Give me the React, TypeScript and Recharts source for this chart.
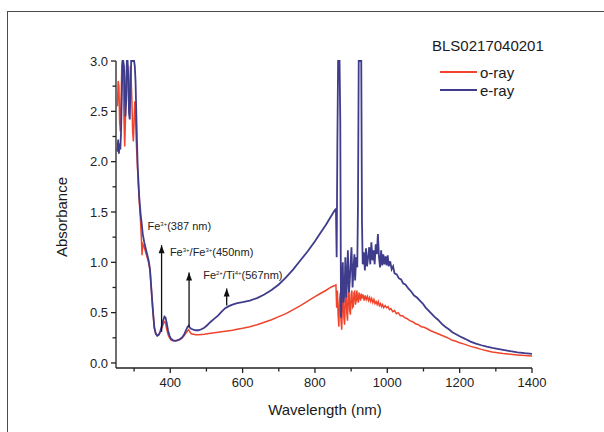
import { LineChart, Line, XAxis, YAxis, ReferenceLine, ReferenceDot, Legend } from 'recharts';

const FONT = '"Liberation Sans", Arial, Helvetica, sans-serif';

const sampleId = 'BLS0217040201';
const seriesNames = ['o-ray', 'e-ray'];
const seriesColors = ['#f0442c', '#3f3c8c'];

const xTicks = [300, 400, 500, 600, 700, 800, 900, 1000, 1100, 1200, 1300, 1400];
const xLabelTicks = [400, 600, 800, 1000, 1200, 1400];
const yTicks = [0, 0.25, 0.5, 0.75, 1, 1.25, 1.5, 1.75, 2, 2.25, 2.5, 2.75, 3];
const yLabelTicks = [0, 0.5, 1, 1.5, 2, 2.5, 3];

// [wavelength nm, absorbance]
const oRay: [number, number][] = [
  [254, 2.55], [256, 2.8], [258, 2.75], [260, 2.4], [262, 2.3], [264, 2.6], [266, 2.95], [268, 3.0],
  [270, 2.85], [272, 2.45], [274, 2.15], [276, 2.4], [278, 2.8], [280, 3.0], [282, 2.95], [284, 2.7],
  [286, 2.5], [288, 2.75], [290, 2.95], [292, 2.8], [294, 2.6], [296, 2.3], [298, 2.2], [300, 2.4],
  [302, 2.6], [304, 2.45], [306, 2.2], [308, 2.05], [310, 1.9], [314, 1.62], [318, 1.4], [320, 1.25],
  [322, 1.07], [324, 1.18], [328, 1.15], [332, 1.1], [336, 1.05], [340, 1.0], [344, 0.92], [348, 0.72],
  [352, 0.52], [356, 0.35], [360, 0.29], [364, 0.27], [368, 0.28], [372, 0.3], [376, 0.34], [380, 0.38],
  [384, 0.41], [387, 0.4], [390, 0.34], [394, 0.28], [398, 0.25], [402, 0.23], [408, 0.22], [414, 0.22],
  [420, 0.225], [426, 0.23], [432, 0.245], [438, 0.27], [444, 0.3], [448, 0.32], [451, 0.33], [454, 0.31],
  [458, 0.29], [464, 0.285], [470, 0.28], [478, 0.28], [486, 0.283], [494, 0.286], [502, 0.29], [512, 0.295],
  [522, 0.3], [532, 0.305], [542, 0.31], [552, 0.315], [562, 0.32], [572, 0.325], [585, 0.335], [600, 0.345],
  [620, 0.36], [640, 0.38], [660, 0.405], [680, 0.43], [700, 0.46], [720, 0.49], [740, 0.53], [760, 0.57],
  [780, 0.615], [800, 0.66], [815, 0.69], [830, 0.72], [845, 0.755], [855, 0.77], [858, 0.775],
  [860, 0.55], [862, 0.72], [864, 0.48], [866, 0.36], [868, 0.62], [870, 0.7], [872, 0.42], [874, 0.33],
  [876, 0.58], [878, 0.72], [880, 0.45], [882, 0.38], [884, 0.65], [886, 0.74], [888, 0.5], [890, 0.42],
  [892, 0.66], [894, 0.73], [896, 0.52], [898, 0.48], [900, 0.68], [902, 0.72], [904, 0.55], [906, 0.56],
  [908, 0.7], [910, 0.71], [912, 0.58], [914, 0.62], [916, 0.72], [918, 0.63], [920, 0.6], [922, 0.7],
  [924, 0.66], [926, 0.62], [928, 0.69], [930, 0.64], [933, 0.68], [936, 0.62], [939, 0.67], [942, 0.63],
  [945, 0.66], [948, 0.62], [951, 0.65], [954, 0.61], [957, 0.64], [960, 0.6], [963, 0.63], [966, 0.59],
  [969, 0.61], [972, 0.58], [975, 0.61], [978, 0.57], [981, 0.59], [984, 0.56], [987, 0.58], [990, 0.55],
  [994, 0.57], [998, 0.55], [1002, 0.56], [1006, 0.53], [1010, 0.54], [1015, 0.51], [1020, 0.52], [1025, 0.49],
  [1030, 0.5], [1036, 0.47], [1042, 0.47], [1048, 0.45], [1055, 0.44], [1062, 0.42], [1070, 0.41], [1078, 0.39],
  [1086, 0.38], [1094, 0.36], [1102, 0.355], [1110, 0.34], [1120, 0.32], [1130, 0.305], [1140, 0.29], [1150, 0.275],
  [1160, 0.26], [1170, 0.245], [1180, 0.225], [1190, 0.215], [1200, 0.2], [1215, 0.185], [1230, 0.165], [1245, 0.152],
  [1260, 0.135], [1275, 0.122], [1290, 0.11], [1305, 0.102], [1320, 0.093], [1340, 0.086], [1360, 0.079],
  [1380, 0.073], [1400, 0.068],
];

const eRay: [number, number][] = [
  [254, 2.1], [256, 2.22], [258, 2.08], [260, 2.18], [262, 2.12], [264, 2.3], [266, 2.65], [268, 3.0],
  [270, 3.0], [272, 2.95], [274, 2.7], [276, 2.45], [278, 2.6], [280, 3.0], [282, 3.0], [284, 2.85],
  [286, 2.48], [288, 2.42], [290, 2.7], [292, 3.0], [294, 3.0], [296, 3.0], [298, 3.0], [300, 3.0],
  [302, 2.95], [304, 2.8], [306, 2.5], [308, 2.2], [310, 1.95], [314, 1.66], [318, 1.48], [320, 1.42],
  [322, 1.35], [324, 1.28], [328, 1.2], [332, 1.14], [336, 1.08], [340, 1.02], [344, 0.93], [348, 0.72],
  [352, 0.52], [356, 0.35], [360, 0.29], [364, 0.27], [368, 0.28], [372, 0.31], [376, 0.36], [380, 0.42],
  [384, 0.46], [387, 0.45], [390, 0.4], [394, 0.32], [398, 0.27], [402, 0.24], [408, 0.225], [414, 0.22],
  [420, 0.225], [426, 0.235], [432, 0.25], [438, 0.28], [444, 0.33], [448, 0.36], [451, 0.37], [454, 0.35],
  [458, 0.34], [464, 0.33], [470, 0.325], [478, 0.325], [486, 0.335], [494, 0.35], [502, 0.375], [512, 0.41],
  [522, 0.44], [532, 0.47], [542, 0.51], [552, 0.545], [562, 0.565], [572, 0.58], [585, 0.595], [600, 0.605],
  [620, 0.62], [640, 0.645], [660, 0.68], [680, 0.725], [700, 0.78], [720, 0.85], [740, 0.93], [760, 1.02],
  [780, 1.11], [800, 1.21], [815, 1.29], [830, 1.37], [845, 1.46], [855, 1.52], [858, 1.53],
  [860, 1.05], [862, 2.2], [864, 3.0], [868, 3.0], [870, 2.4], [872, 0.45], [875, 0.8], [877, 1.0],
  [879, 0.6], [882, 0.72], [884, 1.05], [887, 0.65], [889, 0.85], [891, 1.12], [894, 0.7], [896, 0.8],
  [899, 1.02], [901, 1.15], [904, 0.75], [906, 0.9], [909, 1.08], [911, 0.82], [914, 1.05], [917, 0.95],
  [919, 1.6], [921, 3.0], [928, 3.0], [930, 1.4], [932, 0.98], [935, 1.1], [938, 0.92], [941, 1.14],
  [944, 0.96], [947, 1.05], [950, 1.15], [953, 0.98], [956, 1.2], [959, 1.02], [962, 1.12], [965, 0.98],
  [968, 1.18], [971, 1.08], [974, 1.28], [977, 1.05], [980, 0.95], [983, 1.12], [986, 0.97], [989, 1.08],
  [992, 0.98], [995, 1.06], [998, 0.97], [1001, 1.07], [1004, 0.96], [1008, 1.01], [1012, 0.93], [1016, 0.96],
  [1020, 0.89], [1026, 0.88], [1032, 0.84], [1038, 0.83], [1044, 0.79], [1050, 0.78], [1058, 0.74], [1066, 0.71],
  [1074, 0.67], [1082, 0.65], [1090, 0.62], [1098, 0.59], [1106, 0.55], [1114, 0.52], [1122, 0.49], [1130, 0.46],
  [1140, 0.43], [1150, 0.39], [1160, 0.36], [1170, 0.335], [1180, 0.305], [1190, 0.285], [1200, 0.265], [1215, 0.24],
  [1230, 0.212], [1245, 0.193], [1260, 0.176], [1275, 0.162], [1290, 0.15], [1305, 0.14], [1320, 0.13],
  [1340, 0.117], [1360, 0.106], [1380, 0.097], [1400, 0.09],
];

// arrows pointing at absorption bands
const arrowNm = [376, 452, 556];
const arrowBase = [0.31, 0.36, 0.57];
const arrowTip = [1.17, 0.9, 0.74];
const labelNm = [337, 399, 491];
const labelAbs = [1.32, 1.06, 0.83];
const labelParts: [string, boolean][][] = [
  [['Fe', false], ['3+', true], ['(387 nm)', false]],
  [['Fe', false], ['3+', true], ['/Fe', false], ['3+', true], ['(450nm)', false]],
  [['Fe', false], ['2+', true], ['/Ti', false], ['4+', true], ['(567nm)', false]],
];

const toPoints = (rows: [number, number][]) => rows.map(([nm, v]) => ({ nm, v }));

function XTick({ x, y, payload }: any) {
  const major = xLabelTicks.includes(payload.value);
  return (
    <g>
      <line x1={x} y1={y} x2={x} y2={y + (major ? 5 : 3.5)} stroke="#222" strokeWidth={1.3} />
      {major && (
        <text x={x} y={y + 19} textAnchor="middle" fontSize={13} fill="#222" fontFamily={FONT}>
          {payload.value}
        </text>
      )}
    </g>
  );
}

function YTick({ x, y, payload }: any) {
  const major = yLabelTicks.includes(payload.value);
  return (
    <g>
      <line x1={x - (major ? 5 : 3.5)} y1={y} x2={x} y2={y} stroke="#222" strokeWidth={1.3} />
      {major && (
        <text x={x - 8} y={y} dy="0.36em" textAnchor="end" fontSize={13} fill="#222" fontFamily={FONT}>
          {payload.value.toFixed(1)}
        </text>
      )}
    </g>
  );
}

function ArrowHead({ cx, cy }: any) {
  return <polygon points={`${cx},${cy} ${cx - 3},${cy + 8} ${cx + 3},${cy + 8}`} fill="#111" />;
}

function bandLabel(parts: [string, boolean][]) {
  return ({ cx, cy }: any) => (
    <text x={cx} y={cy} dy="0.35em" fontSize={11} fill="#222" fontFamily={FONT}>
      {parts.map(([t, sup], i) => (
        <tspan key={i} fontSize={sup ? 6 : 11} dy={sup ? -4 : i > 0 && parts[i - 1][1] ? 4 : 0}>
          {t}
        </tspan>
      ))}
    </text>
  );
}

function LegendBox() {
  return (
    <div style={{ fontFamily: FONT, color: '#1a1a1a' }}>
      <div style={{ fontSize: 15, lineHeight: '17px', marginBottom: 9 }}>{sampleId}</div>
      {seriesNames.map((name, i) => (
        <div key={name} style={{ display: 'flex', alignItems: 'center', height: 18, marginLeft: 8 }}>
          <span style={{ display: 'inline-block', width: 37, height: 1.5, background: seriesColors[i], marginRight: 3 }} />
          <span style={{ fontSize: 15 }}>{name}</span>
        </div>
      ))}
    </div>
  );
}

export default function App() {
  return (
    <div style={{ position: 'absolute', left: 0, top: 0, width: 604, height: 432, overflow: 'hidden', background: '#fff' }}>
      <div style={{ position: 'absolute', left: 7, top: 11, width: 700, height: 500, border: '1.5px solid #4a4a4a' }} />
      <div style={{ position: 'absolute', left: 0, top: 0 }}>
        <LineChart width={604} height={432} margin={{ top: 61, right: 72, bottom: 34, left: 76 }}>
          <XAxis
            dataKey="nm"
            type="number"
            domain={[250, 1400]}
            ticks={xTicks}
            interval={0}
            tick={<XTick />}
            tickLine={false}
            tickSize={0}
            tickMargin={0}
            height={30}
            axisLine={{ stroke: '#222', strokeWidth: 1.3 }}
            allowDuplicatedCategory={false}
          />
          <YAxis
            type="number"
            domain={[-0.05, 3]}
            ticks={yTicks}
            interval={0}
            tick={<YTick />}
            tickLine={false}
            tickSize={0}
            tickMargin={0}
            width={40}
            axisLine={{ stroke: '#222', strokeWidth: 1.3 }}
          />
          <Legend
            layout="vertical"
            align="center"
            verticalAlign="middle"
            content={<LegendBox />}
            wrapperStyle={{ left: 432, top: 37, width: 150 }}
          />
          <Line
            data={toPoints(oRay)}
            dataKey="v"
            name={seriesNames[0]}
            type="linear"
            stroke={seriesColors[0]}
            strokeWidth={1.5}
            dot={false}
            isAnimationActive={false}
          />
          <Line
            data={toPoints(eRay)}
            dataKey="v"
            name={seriesNames[1]}
            type="linear"
            stroke={seriesColors[1]}
            strokeWidth={1.8}
            dot={false}
            isAnimationActive={false}
          />
          {arrowNm.map((nm, i) => (
            <ReferenceLine
              key={`shaft-${i}`}
              segment={[{ x: nm, y: arrowBase[i] }, { x: nm, y: arrowTip[i] }]}
              stroke="#111"
              strokeWidth={1.3}
            />
          ))}
          {arrowNm.map((nm, i) => (
            <ReferenceDot key={`head-${i}`} x={nm} y={arrowTip[i]} r={0} shape={<ArrowHead />} />
          ))}
          {labelNm.map((nm, i) => (
            <ReferenceDot key={`lab-${i}`} x={nm} y={labelAbs[i]} r={0} shape={bandLabel(labelParts[i])} />
          ))}
        </LineChart>
      </div>
      <div style={{ position: 'absolute', left: 225, width: 200, top: 401, textAlign: 'center', fontFamily: FONT, fontSize: 15, color: '#1a1a1a' }}>
        Wavelength (nm)
      </div>
      <div
        style={{
          position: 'absolute',
          left: 61,
          top: 217,
          transform: 'translate(-50%, -50%) rotate(-90deg)',
          fontFamily: FONT,
          fontSize: 15,
          color: '#1a1a1a',
          whiteSpace: 'nowrap',
        }}
      >
        Absorbance
      </div>
    </div>
  );
}
